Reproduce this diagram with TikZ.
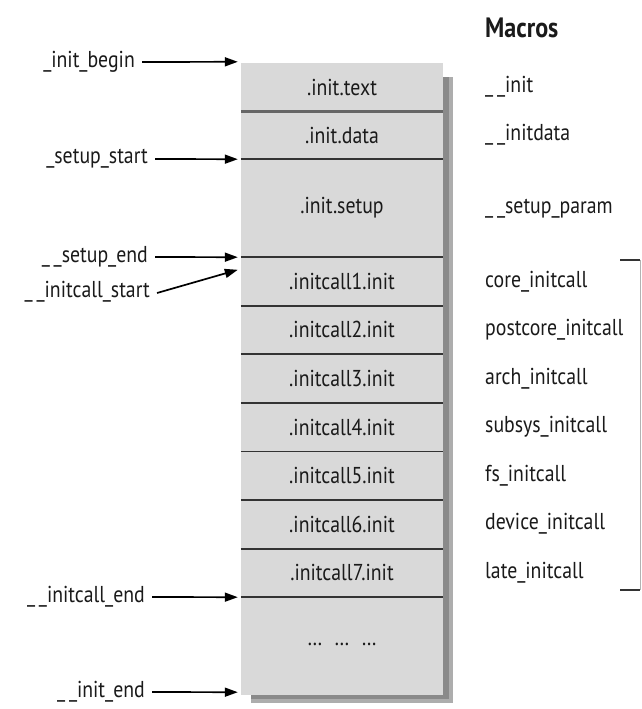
\documentclass[tikz,border=0pt]{standalone}
\usepackage{fontspec}
\setmainfont{PT Sans}[FakeStretch=0.86]
\usetikzlibrary{arrows.meta,calc}
\definecolor{boxgray}{HTML}{D9D9D9}
\definecolor{shadowgray}{HTML}{8A8A8A}
\definecolor{linegray}{HTML}{333333}
\definecolor{textgray}{HTML}{1A1A1A}
\begin{document}
\begin{tikzpicture}[x=1pt,y=-1pt,
  sect/.style={minimum width=202pt,inner sep=0pt,fill=boxgray,text=textgray,font=\fontsize{23}{26}\selectfont},
  lbl/.style={anchor=east,inner sep=0pt,text=textgray,font=\fontsize{23}{26}\selectfont},
  mac/.style={anchor=west,inner sep=0pt,text=textgray,font=\fontsize{23}{26}\selectfont},
  divider/.style={draw=linegray,line width=1.8pt},
  arr/.style={draw=black,line width=1.7pt,-{Triangle[length=13pt,width=9pt]}},
  brk/.style={draw=linegray,line width=1.4pt}]
\useasboundingbox (0,0) rectangle (641,709);
\fill[white] (0,0) rectangle (641,709);
% shadow
\fill[shadowgray] (251,77) rectangle (453,703);
\fill[shadowgray!70!white] (449,77) rectangle (453,703);
\fill[shadowgray!70!white] (251,699) rectangle (453,703);
% sections
\node[sect,minimum height=48pt] (s1) at (342,87) {.init.text};
\node[sect,minimum height=48pt] (s2) at (342,135) {.init.data};
\node[sect,minimum height=98pt] (s3) at (342,208) {.init.setup};
\foreach \i in {1,...,7}{
  \node[sect,minimum height=48.57pt] (c\i) at (342,{257+48.57*(\i-0.5)}) {.initcall\i.init};
}
\node[sect,minimum height=98pt] (s11) at (342,646) {\raisebox{4pt}{\dots\hspace{12pt}\dots\hspace{12pt}\dots}};
% dividers
\draw[divider,draw=gray!80!black,line width=2.6pt] (s1.south west) -- (s1.south east);
\draw[divider] (s2.south west) -- (s2.south east);
\draw[divider] (s3.south west) -- (s3.south east);
\foreach \i in {1,...,7}{
  \draw[divider] (c\i.south west) -- (c\i.south east);
}
% left labels
\node[lbl] (lbegin) at (135,62) {\_init\_begin};
\node[lbl] (lsstart) at (148,159) {\_setup\_start};
\node[lbl] (lsend) at (148,257) {\_\,\_setup\_end};
\node[lbl] (lcstart) at (150,292) {\_\,\_initcall\_start};
\node[lbl] (lcend) at (145,597) {\_\,\_initcall\_end};
\node[lbl] (liend) at (145,692) {\_\,\_init\_end};
\coordinate (tbegin) at ($(s1.north west)+(-3,-1)$);
\coordinate (tsstart) at ($(s2.south west)+(-3,0)$);
\coordinate (tsend) at ($(s3.south west)+(-3,0)$);
\coordinate (tcstart) at ($(c1.north west)+(-3,13)$);
\coordinate (tcend) at ($(c7.south west)+(-3,0)$);
\coordinate (tiend) at ($(s11.south west)+(-3,-3)$);
\draw[arr] ($(lbegin.east)+(7,0)$) -- (tbegin);
\draw[arr] ($(lsstart.east)+(7,0)$) -- (tsstart);
\draw[arr] ($(lsend.east)+(7,0)$) -- (tsend);
\draw[arr] ($(lcstart.east)+(7,1)$) -- (tcstart);
\draw[arr] ($(lcend.east)+(7,0)$) -- (tcend);
\draw[arr] ($(liend.east)+(7,0)$) -- (tiend);
% macros
\node[anchor=west,inner sep=0pt,text=textgray,font=\fontsize{28}{30}\selectfont\bfseries] (mtitle) at (485,28) {Macros};
\node[mac] (m1) at (485,87) {\_\,\_init};
\node[mac] (m2) at (485,135) {\_\,\_initdata};
\node[mac] (m3) at (485,209) {\_\,\_setup\_param};
\node[mac] (m4) at (485,282) {core\_initcall};
\node[mac] (m5) at (485,330) {postcore\_initcall};
\node[mac] (m6) at (485,379) {arch\_initcall};
\node[mac] (m7) at (485,427) {subsys\_initcall};
\node[mac] (m8) at (485,476) {fs\_initcall};
\node[mac] (m9) at (485,524) {device\_initcall};
\node[mac] (m10) at (485,573) {late\_initcall};
% bracket
\coordinate (bt1) at (620,260);
\coordinate (bt2) at (640,260);
\coordinate (bb1) at (620,590);
\coordinate (bb2) at (640,590);
\draw[brk] (bt1) -- (bt2);
\draw[brk] (bb1) -- (bb2);
\draw[draw=gray!60,line width=0.8pt] (bt2) -- (bb2);
\end{tikzpicture}
\end{document}
